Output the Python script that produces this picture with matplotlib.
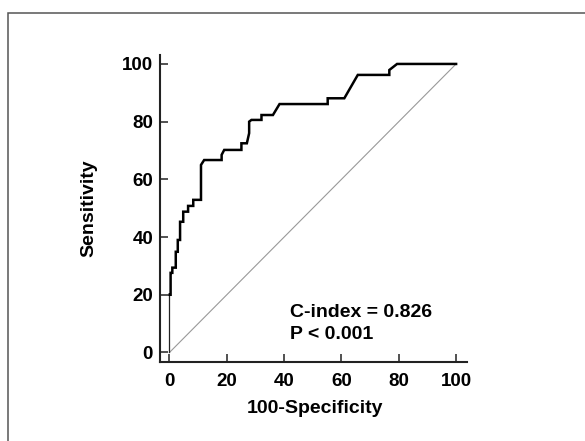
import matplotlib
matplotlib.use("Agg")
import matplotlib.pyplot as plt
from matplotlib.patches import Rectangle

plt.rcParams['font.family'] = ['Liberation Sans', 'DejaVu Sans']

# ROC curve vertices (100-Specificity, Sensitivity)
start_fpr = [0, 0]
start_tpr = [0, 20]
fpr = [0, 0.4, 0.4, 1.0, 1.0, 2.2, 2.2, 2.9, 2.9, 3.7, 3.7, 4.8, 4.8, 6.5, 6.5,
       8.3, 8.3, 11.0, 11.0, 12.1, 18.2, 18.2, 19.1, 25.1, 25.1, 27.0, 27.8, 27.8,
       28.6, 32.1, 32.1, 36.1, 38.4, 55.2, 55.2, 61.0, 65.7, 76.7, 76.7, 79.4, 100]
tpr = [20, 20, 27.6, 27.6, 29.4, 29.4, 34.9, 34.9, 39.0, 39.0, 45.3, 45.3, 48.8, 48.8, 50.8,
       50.8, 52.9, 52.9, 65.0, 66.7, 66.7, 68.5, 70.2, 70.2, 72.5, 72.5, 76.0, 80.0,
       80.6, 80.6, 82.3, 82.3, 86.1, 86.1, 88.1, 88.1, 96.2, 96.2, 97.9, 100, 100]
ref_line = [0, 100]
xticks = [0, 20, 40, 60, 80, 100]
yticks = [0, 20, 40, 60, 80, 100]
c_index_text = "C-index = 0.826"
p_text = "P < 0.001"

fig = plt.figure(figsize=(5.85, 4.41), dpi=100)
fig.patches.append(Rectangle((8/585, -0.5), 2.0, 1.5 - 13/441, transform=fig.transFigure,
                             fill=False, edgecolor='#555555', linewidth=1.1))

ax = fig.add_axes([160/585, 1-362/441, (467-160)/585, (362-55)/441])
ax.plot(ref_line, ref_line, color='#999999', linewidth=0.8)
ax.plot(start_fpr, start_tpr, color='#222222', linewidth=0.9)
ax.plot(fpr, tpr, color='black', linewidth=1.8, solid_joinstyle='miter')

ax.set_xlim(-3.3, 103.8)
ax.set_ylim(-3.3, 103.1)
ax.set_xticks(xticks)
ax.set_yticks(yticks)
for s in ['top', 'right']:
    ax.spines[s].set_visible(False)
for s in ['left', 'bottom']:
    ax.spines[s].set_linewidth(1.5)
    ax.spines[s].set_color('#222222')
ax.tick_params(direction='in', length=6, width=1.1, color='#222222', labelsize=13.5)
ax.tick_params(axis='x', pad=8)
ax.tick_params(axis='y', pad=5)
for lab in ax.get_xticklabels() + ax.get_yticklabels():
    lab.set_fontweight('bold')

ax.set_xlabel('100-Specificity', fontsize=14, fontweight='bold')
ax.set_ylabel('Sensitivity', fontsize=14, fontweight='bold')
ax.xaxis.set_label_coords(0.505, -0.125)
ax.yaxis.set_label_coords(-0.205, 0.50)

ax.text(41.9, 14.0, c_index_text, fontsize=14, fontweight='bold', va='center', ha='left')
ax.text(41.9, 6.4, p_text, fontsize=14, fontweight='bold', va='center', ha='left')

fig.savefig('out.png', dpi=100)
